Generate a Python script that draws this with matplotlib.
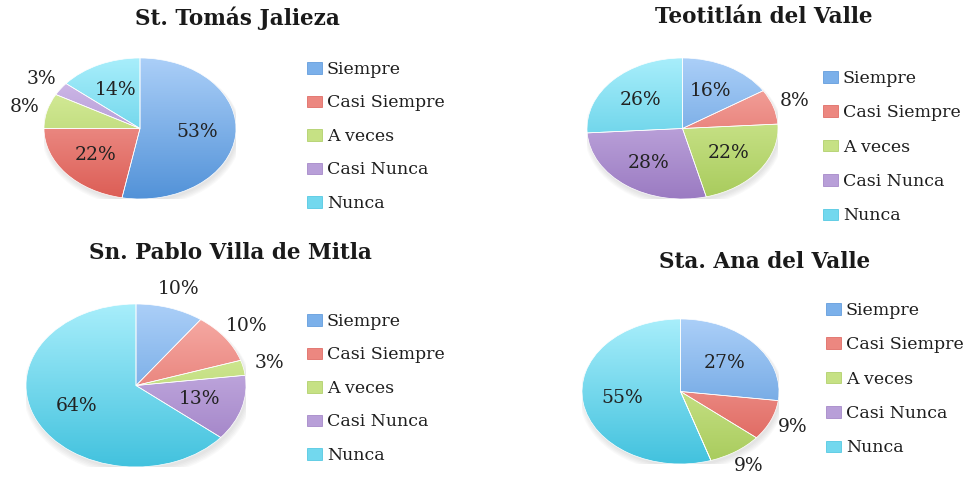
import numpy as np
import matplotlib
matplotlib.use('Agg')
import matplotlib.pyplot as plt
from matplotlib.colors import LinearSegmentedColormap
from matplotlib.patches import Patch, Ellipse

plt.rcParams['font.family'] = ['DejaVu Serif']
plt.rcParams['text.color'] = '#1e1e1e'

W, H = 977, 478

categorias = ['Siempre', 'Casi Siempre', 'A veces', 'Casi Nunca', 'Nunca']

titulos = ['St. Tomás Jalieza', 'Teotitlán del Valle',
           'Sn. Pablo Villa de Mitla', 'Sta. Ana del Valle']
tomas = [53, 22, 8, 3, 14]
teotitlan = [16, 8, 22, 28, 26]
mitla = [10, 10, 3, 13, 64]
santa_ana = [27, 9, 9, 0, 55]

# colores: claro arriba, oscuro abajo (degradado tipo Excel)
claros = ['#abcff8', '#f8b0aa', '#e0f3a8', '#d6c3ee', '#a8eefb']
oscuros = ['#5292d8', '#dc5d55', '#a8cb5c', '#9b7bc2', '#42c2de']
medios = ['#7bb0ea', '#ec8780', '#c6e184', '#b89fd8', '#72d8ee']

# (cx, cy, rx, ry) del pastel, esquina de la leyenda, separacion y centro del titulo, en pixeles
paneles = [
    (tomas, (140, 128.5, 96, 70.5), (307, 61, 0.95), (237, 18)),
    (teotitlan, (682.5, 128.5, 95.5, 70.5), (823, 70, 1.0), (764, 17)),
    (mitla, (136, 385.5, 110, 81.5), (307, 313, 0.95), (230, 253)),
    (santa_ana, (680.5, 391.5, 98.5, 72.5), (826, 302, 1.0), (765, 262)),
]

fig = plt.figure(figsize=(W / 100, H / 100), dpi=100)
grad = np.linspace(0, 1, 256).reshape(-1, 1)


def pastel(valores, titulo, caja, esquina, pos_titulo):
    cx, cy, rx, ry = caja
    ax = fig.add_axes([(cx - rx) / W, 1 - (cy + ry) / H, 2 * rx / W, 2 * ry / H])

    # sombra suave
    for k in range(5):
        ax.add_patch(Ellipse((0.015, -0.035 - 0.008 * k), 2 + 0.02 * k, 2 + 0.02 * k,
                             facecolor='#808080', edgecolor='none', alpha=0.045, zorder=0))

    wedges, _ = ax.pie(valores, startangle=90, counterclock=False, colors=medios,
                       wedgeprops=dict(edgecolor='white', linewidth=0.5))

    for w, c1, c2 in zip(wedges, oscuros, claros):
        cmap = LinearSegmentedColormap.from_list('g', [c1, c2])
        im = ax.imshow(grad[::-1], cmap=cmap, extent=(-1, 1, -1, 1),
                       aspect='auto', zorder=1, interpolation='bilinear')
        im.set_clip_path(w)
        w.set_facecolor('none')
        w.set_zorder(2)

    for w, v in zip(wedges, valores):
        if v == 0:
            continue
        ang = np.deg2rad((w.theta1 + w.theta2) / 2)
        r = 0.6 if v >= 13 else 1.24
        ax.text(r * np.cos(ang), r * np.sin(ang), f'{v}%', ha='center', va='center',
                fontsize=13.5, color='#222222', zorder=3)

    ax.set_xlim(-1, 1)
    ax.set_ylim(-1, 1)
    ax.set_aspect('auto')
    ax.axis('off')

    handles = [Patch(facecolor=m, edgecolor=o, linewidth=0.5) for m, o in zip(medios, oscuros)]
    lx, ly, sep = esquina
    fig.legend(handles, categorias, loc='upper left',
               bbox_to_anchor=(lx / W, 1 - ly / H), bbox_transform=fig.transFigure,
               frameon=False, fontsize=12.5, handlelength=0.85, handleheight=0.65,
               handletextpad=0.3, labelspacing=sep, borderpad=0, borderaxespad=0)

    fig.text(pos_titulo[0] / W, 1 - pos_titulo[1] / H, titulo, ha='center', va='center',
             fontsize=15.5, fontweight='bold', color='#1a1a1a')


for (vals, caja, esquina, pt), titulo in zip(paneles, titulos):
    pastel(vals, titulo, caja, esquina, pt)

fig.savefig('out.png', dpi=100, facecolor='white')
